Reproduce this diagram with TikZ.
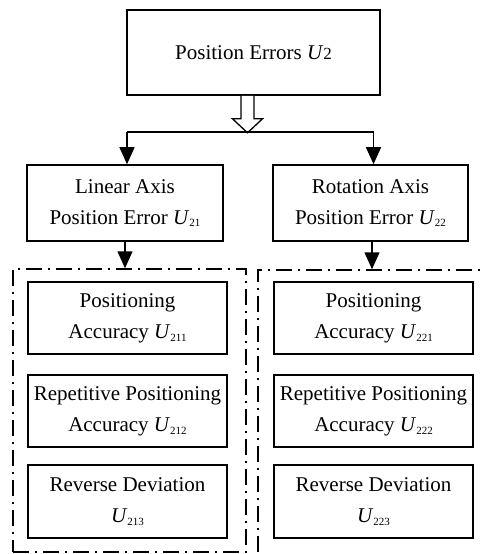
\documentclass[tikz,border=0pt]{standalone}
\usepackage{fontspec}
\setmainfont{Liberation Serif}
\usetikzlibrary{arrows.meta}
\newcommand{\Usub}[1]{\textit{U}\raisebox{-0.3ex}{\fontsize{11}{11}\selectfont #1}}
\begin{document}
\begin{tikzpicture}[x=1pt,y=-1pt,
  box/.style={draw, line width=1.6pt, align=center, inner sep=0pt,
    font=\fontsize{21}{31}\selectfont},
  dbox/.style={draw, line width=1.5pt, dash pattern=on 16pt off 6pt on 2pt off 6pt,
    inner sep=0pt},
  conn/.style={line width=1.5pt},
  arr/.style={line width=1.5pt, -{Triangle[width=15pt,length=17pt]}},
  hollow/.style={line width=1.3pt, fill=white}]
\clip (0,0) rectangle (482,554);
\fill[white] (0,0) rectangle (482,554);

% top
\node[box, minimum width=253, minimum height=85] (top) at (253.5,52.5)
  {Position Errors \textit{U}{\fontsize{17}{17}\selectfont 2}};

% level 2
\node[box, minimum width=196, minimum height=76] (l21) at (125,203)
  {Linear Axis\\Position Error \Usub{21}};
\node[box, minimum width=195, minimum height=76] (l22) at (370.5,203)
  {Rotation Axis\\Position Error \Usub{22}};

% dashed groups
\node[dbox, minimum width=233, minimum height=283] (dl) at (129.5,410.5) {};
\node[dbox, minimum width=232, minimum height=290] (dr) at (374,415) {};

% inner boxes left
\node[box, minimum width=199, minimum height=72] (u211) at (127.5,318)
  {Positioning\\Accuracy \Usub{211}};
\node[box, minimum width=199, minimum height=72] (u212) at (127.5,411)
  {Repetitive Positioning\\Accuracy \Usub{212}};
\node[box, minimum width=199, minimum height=73] (u213) at (127.5,501.5)
  {Reverse Deviation\\\Usub{213}};

% inner boxes right
\node[box, minimum width=199, minimum height=72] (u221) at (373.5,318)
  {Positioning\\Accuracy \Usub{221}};
\node[box, minimum width=199, minimum height=72] (u222) at (373.5,411)
  {Repetitive Positioning\\Accuracy \Usub{222}};
\node[box, minimum width=199, minimum height=73] (u223) at (373.5,501.5)
  {Reverse Deviation\\\Usub{223}};

% hollow arrow
\coordinate (hb) at ([xshift=-6pt]top.south);
\draw[hollow] ([xshift=-6.5pt]hb) -- ++(0,23) -- ++(-8.5,0) -- ++(15,14)
  -- ++(15,-14) -- ++(-8.5,0) -- ++(0,-23);

% branch
\path (l21.north) ++(2,-32) coordinate (jl);
\path (l22.north) ++(3,-32) coordinate (jr);
\draw[conn] (jl) -- (jr);
\draw[arr] (jl) -- (jl |- l21.north);
\draw[arr] (jr) -- (jr |- l22.north);

% to groups
\draw[arr] (l21.south) -- (l21.south |- dl.north);
\draw[arr] ([xshift=1.5pt]l22.south) -- ([xshift=1.5pt]l22.south |- dr.north);
\end{tikzpicture}
\end{document}
